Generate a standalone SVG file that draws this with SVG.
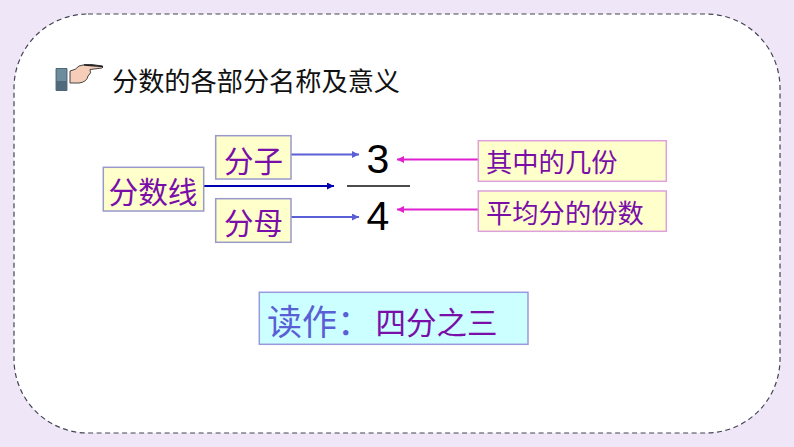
<svg xmlns="http://www.w3.org/2000/svg" width="794" height="447" viewBox="0 0 794 447">
<style>
text{font-family:"Noto Sans CJK SC","Noto Sans",sans-serif}
.y{fill:#ffffcc;stroke:#9999cc;stroke-width:1.5}
.p{fill:#ffffcc;stroke:#dda0dd;stroke-width:1.5}
.t{fill:#7a0ea8}
.b{stroke:#5b5fd6;stroke-width:2;fill:none;marker-end:url(#ab)}
.d{stroke:#0000b0;stroke-width:2;fill:none;marker-end:url(#ad)}
.m{stroke:#e020d0;stroke-width:2;fill:none;marker-end:url(#am)}
.n{font-family:"Liberation Sans",Arial,sans-serif;font-size:41px;fill:#000;text-anchor:middle}
</style>
<defs>
<marker id="ab" markerUnits="userSpaceOnUse" markerWidth="8" markerHeight="8" refX="7" refY="3.5" orient="auto"><path d="M0 0L7 3.5L0 7Z" fill="#5b5fd6"/></marker>
<marker id="ad" markerUnits="userSpaceOnUse" markerWidth="8" markerHeight="8" refX="7" refY="3.5" orient="auto"><path d="M0 0L7 3.5L0 7Z" fill="#0000b0"/></marker>
<marker id="am" markerUnits="userSpaceOnUse" markerWidth="8" markerHeight="8" refX="7" refY="3.5" orient="auto"><path d="M0 0L7 3.5L0 7Z" fill="#e020d0"/></marker>
</defs>
<rect width="794" height="447" fill="#efe6f7"/>
<rect x="14" y="14" width="766" height="419" rx="74" ry="74" fill="#fff" stroke="#444455" stroke-width="1.2" stroke-dasharray="5 3.5"/>
<g id="hand">
<path d="M56 68.500H67V90.500H56Z" fill="#6d8c9e" stroke="#39505e" stroke-width=".8"/>
<path d="M56 81H67V90.500H56Z" fill="#4f6a7a"/>
<path d="M70 71Q76 70 79 66Q84 64 92 64.500L102 66Q104 67 102 68L90 69.500Q92 73 88 76Q87 82 79 83H70Z" fill="#f5cdb8" stroke="#444" stroke-width="1"/>
<path d="M84 65L103 66.500" stroke="#222" stroke-width="1.500" fill="none"/>
</g>
<g id="title"><text x="112" y="91" font-size="26.200" fill="#111">分数的各部分名称及意义</text></g>
<g id="connectors">
<path class="b" d="M291 154.500H359"/>
<path class="d" d="M204 186H334"/>
<path class="b" d="M291 217H359"/>
<path class="m" d="M478 159.500H397"/>
<path class="m" d="M478 209.500H397"/>
</g>
<g id="fraction">
<text class="n" x="378" y="173">3</text>
<path d="M347 186H410" stroke="#111" stroke-width="1.500"/>
<text class="n" x="378" y="230">4</text>
</g>
<g id="numerator"><rect class="y" x="215.700" y="135.700" width="75.300" height="43.300"/><text class="t" x="224" y="172" font-size="29.500">分子</text></g>
<g id="line"><rect class="y" x="103.300" y="167.300" width="100.400" height="43.700"/><text class="t" x="108.500" y="203" font-size="29.700">分数线</text></g>
<g id="denominator"><rect class="y" x="215.700" y="198.700" width="75.300" height="43.600"/><text class="t" x="224" y="234" font-size="29.500">分母</text></g>
<g id="meaning1"><rect class="p" x="478.300" y="140.700" width="188" height="40.600"/><text class="t" x="486" y="172" font-size="26.300">其中的几份</text></g>
<g id="meaning2"><rect class="p" x="478.300" y="191" width="188" height="40.300"/><text class="t" x="486" y="223" font-size="26.300">平均分的份数</text></g>
<g id="reading"><rect x="259.300" y="292.300" width="268.700" height="52" fill="#ccffff" stroke="#9999dd" stroke-width="1.500"/>
<text x="267" y="335" font-size="35" fill="#5b5fd6">读作：</text><text x="375.500" y="334" font-size="30.500" fill="#7a0ea8">四分之三</text></g>
</svg>
